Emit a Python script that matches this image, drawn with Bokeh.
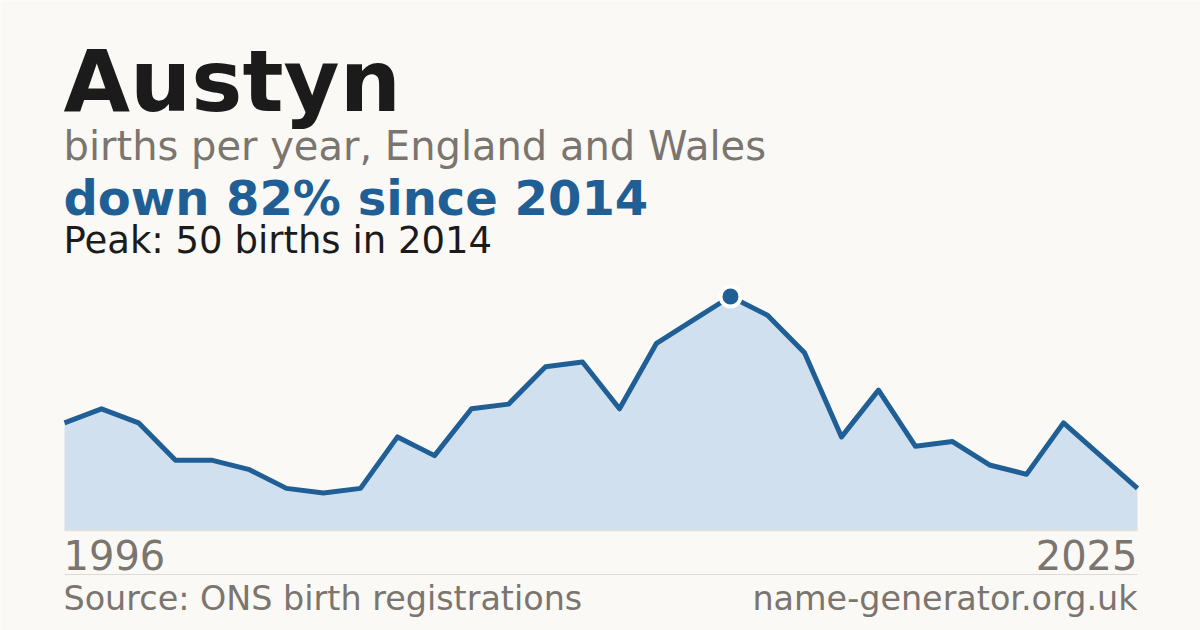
from bokeh.plotting import figure
from bokeh.models import Label, Range1d
from bokeh.embed import file_html
from bokeh.resources import INLINE

# ---- data ----
years = list(range(1996, 2026))
births = [23, 26, 23, 15, 15, 13, 9, 8, 9, 20,
          16, 26, 27, 35, 36, 26, 40, 45, 50, 46,
          38, 20, 30, 18, 19, 14, 12, 23, 16, 9]
name = "Austyn"
subtitle = "births per year, England and Wales"
headline = "down 82% since 2014"
peak_text = "Peak: 50 births in 2014"
source_text = "Source: ONS birth registrations"
site_text = "name-generator.org.uk"

# ---- layout (canvas pixels) ----
W, H = 1200, 630
X0_PX, X1_PX = 64, 1137          # first / last year positions
Y0_PX = 100                       # baseline (0 births) from bottom
PX_PER_BIRTH = 4.68

BG = "#faf9f5"
BLUE = "#1f5f96"
FILL = "#d0e0ef"
GREY = "#7a756f"
DARK = "#1b1b1b"
FONT = "DejaVu Sans"

px_per_year = (X1_PX - X0_PX) / (years[-1] - years[0])
x_start = years[0] - X0_PX / px_per_year
x_end = years[-1] + (W - X1_PX) / px_per_year
y_start = -Y0_PX / PX_PER_BIRTH
y_end = (H - Y0_PX) / PX_PER_BIRTH

p = figure(width=W, height=H, output_backend="svg", toolbar_location=None,
           x_range=Range1d(x_start, x_end), y_range=Range1d(y_start, y_end),
           min_border=0, x_axis_location=None, y_axis_location=None)
p.grid.visible = False
p.outline_line_color = None
p.background_fill_color = BG
p.border_fill_color = BG

p.varea(x=years, y1=[0] * len(years), y2=births, fill_color=FILL)
p.line(x=[years[0], years[-1]], y=[0, 0], line_color="#e8e0d4", line_width=1.5)
p.line(x=years, y=births, line_color=BLUE, line_width=5, line_join="round")

pk = births.index(max(births))
p.scatter(x=[years[pk]], y=[births[pk]], size=20, fill_color=BLUE,
          line_color="white", line_width=4)

# divider line under the year labels
div_y = y_start + 56 / PX_PER_BIRTH
p.line(x=[years[0], years[-1]], y=[div_y, div_y], line_color="#dedad2", line_width=1)

def lab(text, x, y, size, color, bold=False, align="left"):
    p.add_layout(Label(text=text, x=x, y=y, x_units="screen", y_units="screen",
                       text_font=FONT, text_font_size=f"{size}px",
                       text_font_style="bold" if bold else "normal",
                       text_color=color, text_align=align,
                       text_baseline="alphabetic"))

lab(name, 63, 550, 86, DARK, bold=True)
lab(subtitle, 63, 485, 40, GREY)
lab(headline, 63, 433, 48, BLUE, bold=True)
lab(peak_text, 63, 390, 37, DARK)
lab(str(years[0]), 63, 76, 40, GREY)
lab(str(years[-1]), 1137, 76, 40, GREY, align="right")
lab(source_text, 63, 32, 33.4, GREY)
lab(site_text, 1137, 32, 33.4, GREY, align="right")

html = file_html(p, INLINE)
html = html.replace("<body>", f'<body style="background:{BG}">', 1)
open("out.html", "w").write(html)
